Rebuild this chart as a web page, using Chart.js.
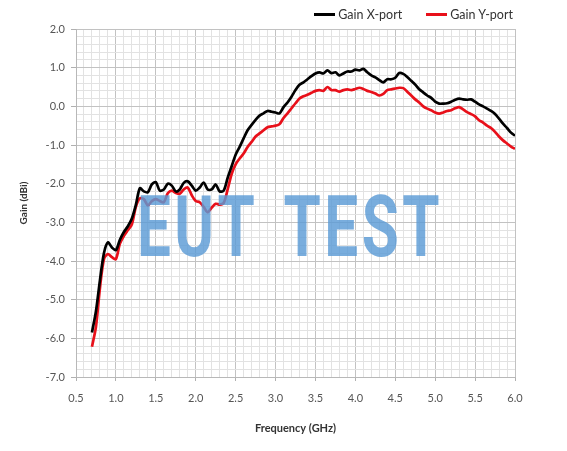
<!DOCTYPE html>
<html>
<head>
<meta charset="utf-8">
<title>Gain vs Frequency</title>
<script src="https://cdn.jsdelivr.net/npm/chart.js@4.4.0/dist/chart.umd.min.js"></script>
<style>
  html, body { margin: 0; padding: 0; background: #fff; }
  #wrap { position: relative; width: 567px; height: 451px; }
  #legend {
    position: absolute; top: 7px; right: 54px;
    font-family: Lato, "Open Sans", sans-serif; font-size: 12.5px; color: #333;
    display: flex; align-items: center;
  }
  #legend .item { display: flex; align-items: center; margin-left: 24px; }
  #legend .swatch { width: 21px; height: 3px; margin-right: 3px; }
  #mark {
    position: absolute; left: 137px; top: 184px;
    font-family: Roboto, sans-serif; font-weight: 700; font-size: 86px;
    letter-spacing: 5px; word-spacing: 14px;
    line-height: 1; white-space: nowrap; color: rgba(91, 155, 213, 0.82);
    transform-origin: 0 0; pointer-events: none;
  }
</style>
</head>
<body>
<div id="wrap">
  <canvas id="gainChart"></canvas>
  <div id="legend"></div>
  <div id="mark">EUT TEST</div>
</div>
<script>
// Frequency points (GHz)
const freqs = [
  0.70, 0.75, 0.80, 0.85, 0.90, 0.95, 1.00, 1.05, 1.10, 1.15,
  1.20, 1.25, 1.30, 1.35, 1.40, 1.45, 1.50, 1.55, 1.60, 1.65,
  1.70, 1.75, 1.80, 1.85, 1.90, 1.95, 2.00, 2.05, 2.10, 2.15,
  2.20, 2.25, 2.30, 2.35, 2.40, 2.45, 2.50, 2.55, 2.60, 2.65,
  2.70, 2.75, 2.80, 2.85, 2.90, 2.95, 3.00, 3.05, 3.10, 3.15,
  3.20, 3.25, 3.30, 3.35, 3.40, 3.45, 3.50, 3.55, 3.60, 3.65,
  3.70, 3.75, 3.80, 3.85, 3.90, 3.95, 4.00, 4.05, 4.10, 4.15,
  4.20, 4.25, 4.30, 4.35, 4.40, 4.45, 4.50, 4.55, 4.60, 4.65,
  4.70, 4.75, 4.80, 4.85, 4.90, 4.95, 5.00, 5.05, 5.10, 5.15,
  5.20, 5.25, 5.30, 5.35, 5.40, 5.45, 5.50, 5.55, 5.60, 5.65,
  5.70, 5.75, 5.80, 5.85, 5.90, 5.95, 6.00
];

// Gain X-port (dBi)
const gainX = [
  -5.85, -5.30, -4.50, -3.80, -3.52, -3.65, -3.72, -3.45, -3.25, -3.10,
  -2.90, -2.55, -2.12, -2.20, -2.22, -2.02, -1.96, -2.18, -2.15, -2.00,
  -2.05, -2.20, -2.15, -1.98, -1.94, -2.05, -2.18, -2.10, -1.97, -2.15,
  -2.15, -2.02, -2.20, -2.18, -1.85, -1.55, -1.25, -1.05, -0.83, -0.62,
  -0.48, -0.35, -0.24, -0.18, -0.12, -0.14, -0.16, -0.18, -0.02, 0.10,
  0.25, 0.42, 0.56, 0.62, 0.70, 0.78, 0.85, 0.88, 0.85, 0.93,
  0.86, 0.88, 0.80, 0.85, 0.90, 0.90, 0.95, 0.93, 0.97, 0.88,
  0.80, 0.75, 0.68, 0.62, 0.70, 0.70, 0.74, 0.86, 0.84, 0.76,
  0.66, 0.56, 0.44, 0.36, 0.28, 0.22, 0.12, 0.07, 0.07, 0.08,
  0.12, 0.17, 0.20, 0.18, 0.17, 0.18, 0.12, 0.05, 0.00, -0.06,
  -0.12, -0.20, -0.32, -0.45, -0.56, -0.68, -0.76
];

// Gain Y-port (dBi)
const gainY = [
  -6.22, -5.70, -4.70, -3.95, -3.82, -3.90, -3.95, -3.55, -3.35, -3.20,
  -3.05, -2.60, -2.38, -2.40, -2.56, -2.45, -2.40, -2.45, -2.48, -2.25,
  -2.18, -2.24, -2.26, -2.15, -2.10, -2.30, -2.45, -2.48, -2.60, -2.74,
  -2.62, -2.52, -2.54, -2.50, -2.15, -1.75, -1.50, -1.35, -1.22, -1.05,
  -0.92, -0.78, -0.70, -0.62, -0.54, -0.52, -0.50, -0.46, -0.30, -0.18,
  -0.05, 0.08, 0.20, 0.26, 0.30, 0.35, 0.40, 0.42, 0.40, 0.50,
  0.42, 0.42, 0.38, 0.42, 0.44, 0.42, 0.45, 0.48, 0.45, 0.40,
  0.37, 0.33, 0.28, 0.32, 0.42, 0.44, 0.46, 0.48, 0.47, 0.38,
  0.28, 0.18, 0.10, 0.00, -0.06, -0.10, -0.16, -0.19, -0.16, -0.12,
  -0.10, -0.05, -0.02, -0.08, -0.15, -0.20, -0.26, -0.36, -0.42, -0.50,
  -0.56, -0.66, -0.78, -0.88, -0.96, -1.04, -1.10
];

const seriesNames = ['Gain X-port', 'Gain Y-port'];
const seriesColors = ['#000000', '#e8101a'];

const fontFamily = 'Lato, "Open Sans", sans-serif';

// helpers for major / minor grid lines
function isMajorX(v) {
  return Math.round(v * 10) % 5 === 0;
}
function isMajorY(v) {
  return Math.abs(v - Math.round(v)) < 1e-6;
}

function toPoints(ys) {
  return freqs.map((f, i) => ({ x: f, y: ys[i] }));
}

const ctx = document.getElementById('gainChart').getContext('2d');

const gainChart = new Chart(ctx, {
  type: 'line',
  data: {
    datasets: [gainX, gainY].map((ys, i) => ({
      label: seriesNames[i],
      data: toPoints(ys),
      borderColor: seriesColors[i],
      backgroundColor: seriesColors[i],
      borderWidth: 2.7,
      pointRadius: 0,
      tension: 0.3,
      fill: false
    }))
  },
  options: {
    responsive: true,
    maintainAspectRatio: false,
    animation: false,
    layout: {
      padding: { left: 14, right: 52, top: 29, bottom: 12 }
    },
    plugins: {
      legend: { display: false },
      tooltip: { enabled: false }
    },
    scales: {
      x: {
        type: 'linear',
        min: 0.5,
        max: 6.0,
        afterFit: function(scale) { scale.height = 62; },
        ticks: {
          stepSize: 0.1,
          autoSkip: false,
          maxRotation: 0,
          color: '#555',
          padding: 11,
          font: { family: fontFamily, size: 11 },
          callback: function(value) {
            return isMajorX(value) ? value.toFixed(1) : '';
          }
        },
        grid: {
          color: function(c) {
            return isMajorX(c.tick.value) ? '#c2c2c2' : '#e2e2e2';
          },
          tickColor: function(c) {
            return isMajorX(c.tick.value) ? '#b0b0b0' : 'rgba(0,0,0,0)';
          },
          tickLength: 4
        },
        border: { color: '#b8b8b8' },
        title: {
          display: true,
          text: 'Frequency (GHz)',
          color: '#333',
          font: { family: fontFamily, size: 11, weight: 'bold' },
          padding: { top: 7 }
        }
      },
      y: {
        min: -7,
        max: 2,
        afterFit: function(scale) { scale.width = 62; },
        ticks: {
          stepSize: 0.2,
          autoSkip: false,
          color: '#555',
          padding: 6,
          font: { family: fontFamily, size: 11 },
          callback: function(value) {
            return isMajorY(value) ? Math.round(value).toFixed(1) : '';
          }
        },
        grid: {
          color: function(c) {
            return isMajorY(c.tick.value) ? '#c2c2c2' : '#e2e2e2';
          },
          tickColor: function(c) {
            return isMajorY(c.tick.value) ? '#b0b0b0' : 'rgba(0,0,0,0)';
          },
          tickLength: 5
        },
        border: { color: '#b8b8b8' },
        title: {
          display: true,
          text: 'Gain (dBi)',
          color: '#333',
          font: { family: fontFamily, size: 10, weight: 'bold' },
          padding: { bottom: 4 }
        }
      }
    }
  }
});

// legend built from the dataset names and colours
const legendEl = document.getElementById('legend');
gainChart.data.datasets.forEach(ds => {
  const item = document.createElement('span');
  item.className = 'item';
  const sw = document.createElement('span');
  sw.className = 'swatch';
  sw.style.background = ds.borderColor;
  item.appendChild(sw);
  item.appendChild(document.createTextNode(ds.label));
  legendEl.appendChild(item);
});

// squeeze the watermark to its width in the picture
const mark = document.getElementById('mark');
mark.style.transform = 'scaleX(' + (306 / mark.offsetWidth) + ')';
</script>
</body>
</html>
